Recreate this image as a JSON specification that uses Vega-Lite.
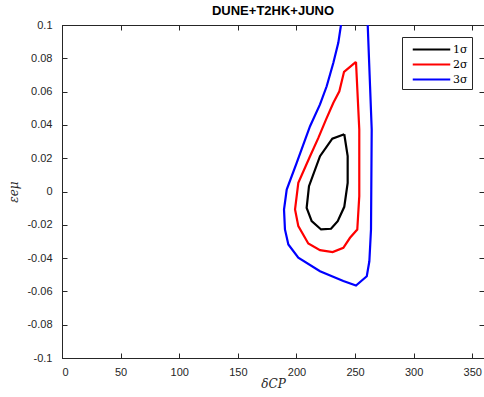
{
  "$schema": "https://vega.github.io/schema/vega-lite/v6.json",
  "width": 422,
  "height": 333,
  "autosize": {"type": "none"},
  "padding": {"left": 62, "top": 25, "right": 0, "bottom": 39},
  "background": "white",
  "title": {"text": "DUNE+T2HK+JUNO", "font": "Liberation Sans", "fontSize": 13, "fontWeight": "bold", "color": "#000000", "offset": 1},
  "config": {
    "view": {"stroke": "#262626", "strokeWidth": 1},
    "axis": {"labelFont": "Liberation Sans", "labelFontSize": 11, "labelColor": "#262626", "domainColor": "#262626", "tickColor": "#262626", "grid": false, "titleFont": "DejaVu Serif", "titleFontWeight": "normal", "titleFontStyle": "italic", "titleColor": "#262626", "titleFontSize": 12}
  },
  "data": {"values": [
    {"level": "1σ", "i": 0, "d": 240.8, "e": 0.0344},
    {"level": "1σ", "i": 1, "d": 230.6, "e": 0.0317},
    {"level": "1σ", "i": 2, "d": 220.1, "e": 0.0212},
    {"level": "1σ", "i": 3, "d": 210.7, "e": 0.0032},
    {"level": "1σ", "i": 4, "d": 208.7, "e": -0.0098},
    {"level": "1σ", "i": 5, "d": 213.0, "e": -0.0178},
    {"level": "1σ", "i": 6, "d": 221.0, "e": -0.0228},
    {"level": "1σ", "i": 7, "d": 229.5, "e": -0.0224},
    {"level": "1σ", "i": 8, "d": 235.2, "e": -0.0178},
    {"level": "1σ", "i": 9, "d": 240.8, "e": -0.0092},
    {"level": "1σ", "i": 10, "d": 243.7, "e": 0.0052},
    {"level": "1σ", "i": 11, "d": 243.7, "e": 0.0212},
    {"level": "1σ", "i": 12, "d": 240.8, "e": 0.0344},
    {"level": "2σ", "i": 0, "d": 250.8, "e": 0.0779},
    {"level": "2σ", "i": 1, "d": 240.6, "e": 0.0719},
    {"level": "2σ", "i": 2, "d": 236.6, "e": 0.0602},
    {"level": "2σ", "i": 3, "d": 231.5, "e": 0.0533},
    {"level": "2σ", "i": 4, "d": 225.2, "e": 0.0432},
    {"level": "2σ", "i": 5, "d": 218.7, "e": 0.0322},
    {"level": "2σ", "i": 6, "d": 211.6, "e": 0.0212},
    {"level": "2σ", "i": 7, "d": 201.6, "e": 0.0052},
    {"level": "2σ", "i": 8, "d": 198.8, "e": -0.0108},
    {"level": "2σ", "i": 9, "d": 201.6, "e": -0.0208},
    {"level": "2σ", "i": 10, "d": 210.1, "e": -0.0312},
    {"level": "2σ", "i": 11, "d": 220.1, "e": -0.0352},
    {"level": "2σ", "i": 12, "d": 230.9, "e": -0.0364},
    {"level": "2σ", "i": 13, "d": 240.0, "e": -0.0338},
    {"level": "2σ", "i": 14, "d": 245.7, "e": -0.0278},
    {"level": "2σ", "i": 15, "d": 251.9, "e": -0.0228},
    {"level": "2σ", "i": 16, "d": 253.6, "e": -0.0028},
    {"level": "2σ", "i": 17, "d": 253.6, "e": 0.0372},
    {"level": "2σ", "i": 18, "d": 250.8, "e": 0.0779},
    {"level": "3σ", "i": 0, "d": 238.0, "e": 0.1},
    {"level": "3σ", "i": 1, "d": 235.7, "e": 0.0893},
    {"level": "3σ", "i": 2, "d": 231.5, "e": 0.0773},
    {"level": "3σ", "i": 3, "d": 225.8, "e": 0.0632},
    {"level": "3σ", "i": 4, "d": 220.1, "e": 0.0523},
    {"level": "3σ", "i": 5, "d": 211.6, "e": 0.0392},
    {"level": "3σ", "i": 6, "d": 200.2, "e": 0.0172},
    {"level": "3σ", "i": 7, "d": 191.7, "e": 0.0012},
    {"level": "3σ", "i": 8, "d": 189.4, "e": -0.0108},
    {"level": "3σ", "i": 9, "d": 190.2, "e": -0.0228},
    {"level": "3σ", "i": 10, "d": 193.1, "e": -0.0318},
    {"level": "3σ", "i": 11, "d": 201.6, "e": -0.0398},
    {"level": "3σ", "i": 12, "d": 220.1, "e": -0.0479},
    {"level": "3σ", "i": 13, "d": 240.0, "e": -0.0538},
    {"level": "3σ", "i": 14, "d": 250.8, "e": -0.0565},
    {"level": "3σ", "i": 15, "d": 260.0, "e": -0.0509},
    {"level": "3σ", "i": 16, "d": 262.2, "e": -0.0419},
    {"level": "3σ", "i": 17, "d": 263.6, "e": -0.0228},
    {"level": "3σ", "i": 18, "d": 264.2, "e": 0.0372},
    {"level": "3σ", "i": 19, "d": 262.8, "e": 0.0632},
    {"level": "3σ", "i": 20, "d": 260.8, "e": 0.1}
  ]},
  "layer": [
    {
      "mark": {"type": "line", "strokeWidth": 2.2, "clip": true},
      "encoding": {
        "x": {"field": "d", "type": "quantitative", "title": "δCP",
          "scale": {"domain": [0, 360], "nice": false, "zero": false},
          "axis": {"values": [0, 50, 100, 150, 200, 250, 300, 350], "tickSize": -5, "labelPadding": 13, "titlePadding": 1, "format": "d"}},
        "y": {"field": "e", "type": "quantitative", "title": "εeμ",
          "scale": {"domain": [-0.1, 0.1], "nice": false, "zero": false},
          "axis": {"values": [-0.1, -0.08, -0.06, -0.04, -0.02, 0, 0.02, 0.04, 0.06, 0.08, 0.1], "tickSize": -5, "labelPadding": 15, "titlePadding": 6, "format": ".2~f",
            "labelExpr": "replace(datum.label, '−', '-')"}},
        "color": {"field": "level", "type": "nominal",
          "scale": {"domain": ["1σ", "2σ", "3σ"], "range": ["#000000", "#ff0000", "#0000ff"]},
          "legend": {"title": null, "orient": "top-right", "offset": 12, "symbolType": "M-2.5,0H2.5", "symbolSize": 225, "symbolStrokeWidth": 2, "symbolOffset": 17, "labelOffset": 13,
            "labelFont": "DejaVu Serif", "labelFontSize": 11, "labelColor": "#000000", "strokeColor": "#262626", "fillColor": "white", "padding": 4, "rowPadding": 1}},
        "order": {"field": "i", "type": "quantitative"}
      }
    },
    {
      "mark": {"type": "line", "strokeOpacity": 0, "clip": true},
      "encoding": {
        "x": {"field": "d", "type": "quantitative",
          "axis": {"orient": "top", "values": [0, 50, 100, 150, 200, 250, 300, 350], "tickSize": -5, "labels": false, "title": null}},
        "y": {"field": "e", "type": "quantitative",
          "axis": {"orient": "right", "values": [-0.1, -0.08, -0.06, -0.04, -0.02, 0, 0.02, 0.04, 0.06, 0.08, 0.1], "tickSize": -5, "labels": false, "title": null}},
        "detail": {"field": "level"},
        "order": {"field": "i", "type": "quantitative"}
      }
    }
  ],
  "resolve": {"axis": {"x": "independent", "y": "independent"}}
}
